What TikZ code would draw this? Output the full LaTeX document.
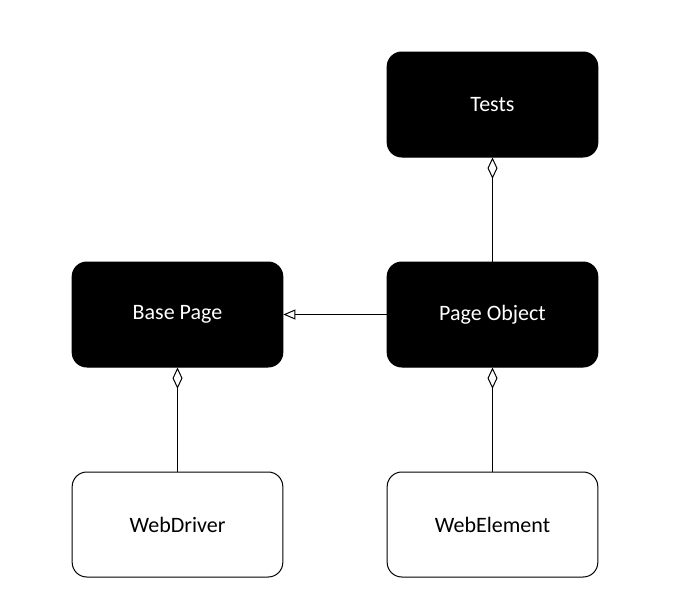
\documentclass[tikz,border=0pt]{standalone}
\usepackage{fontspec}
\setmainfont{Carlito}
\usetikzlibrary{arrows.meta}
\tikzset{
  px/.style={x=0.75pt,y=-0.75pt},
  darkbox/.style={draw=black,fill=black,text=white,rounded corners=11pt,minimum width=158pt,minimum height=78.75pt,line width=0.75pt,font=\fontsize{16.5}{20}\selectfont,inner sep=0pt},
  lightbox/.style={darkbox,fill=white,text=black},
  agg/.style={draw=black,line width=0.75pt,{Diamond[open,fill=white,length=16pt,width=7.5pt]}-},
  inh/.style={draw=black,line width=0.75pt,-{Triangle[open,fill=white,length=9pt,width=7.5pt]}}
}
\begin{document}
\begin{tikzpicture}[px]
\useasboundingbox (0,0) rectangle (676,615);
\node[darkbox] (tests) at (492.5,104.5) {Tests};
\node[darkbox] (base) at (177.5,314.5) {Base Page};
\node[darkbox] (po) at (492.5,314.5) {Page Object};
\node[lightbox] (wd) at (177.5,524.5) {WebDriver};
\node[lightbox] (we) at (492.5,524.5) {WebElement};
\draw[agg] (tests.south) -- (po.north);
\draw[inh] (po.west) -- (base.east);
\draw[agg] (base.south) -- (wd.north);
\draw[agg] (po.south) -- (we.north);
\end{tikzpicture}
\end{document}
